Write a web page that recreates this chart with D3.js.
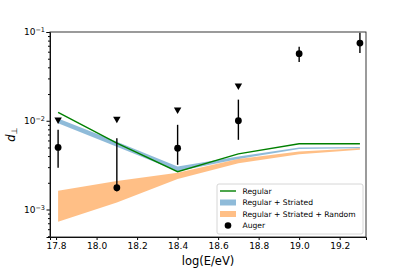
<!DOCTYPE html>
<meta charset="utf-8">
<script src="https://d3js.org/d3.v7.js"></script>
<style>
  body { margin: 0; background: #fff; }
  text { font-family: "DejaVu Sans", sans-serif; }
</style>
<body>
<div id="chart"></div>
<script>
  // energies, log(E/eV)
  const energy = [17.81, 18.1, 18.4, 18.7, 19.0, 19.3];
  const regular = [0.0124, 0.0056, 0.00267, 0.00423, 0.0055, 0.0055];
  const striatedLo = [0.0094, 0.0051, 0.0027, 0.0037, 0.0048, 0.0049];
  const striatedHi = [0.0106, 0.0058, 0.00305, 0.00395, 0.0050, 0.00505];
  const randomLo = [0.00073, 0.0012, 0.0022, 0.00333, 0.0042, 0.0047];
  const randomHi = [0.00163, 0.0021, 0.0026, 0.0037, 0.0045, 0.0049];
  const auger = [0.0050, 0.00176, 0.0049, 0.0100, 0.057, 0.075];
  const augerLo = [0.00296, 0.0016, 0.00319, 0.0061, 0.046, 0.058];
  const augerHi = [0.0079, 0.00637, 0.0090, 0.0173, 0.068, 0.098];
  const upperLimit = [0.0103, 0.0105, 0.0133, 0.0248, null, null];
  const xTicks = [17.8, 18.0, 18.2, 18.4, 18.6, 18.8, 19.0, 19.2];

  const width = 407, height = 271;
  const margin = {left: 50, right: 41, top: 32, bottom: 34};

  const svg = d3.select("#chart").append("svg")
    .attr("width", width).attr("height", height);

  const x = d3.scaleLinear().domain([17.77, 19.33])
    .range([margin.left, width - margin.right]);
  const y = d3.scaleLog().domain([4.9e-4, 0.1])
    .range([height - margin.bottom, margin.top]);

  svg.append("clipPath").attr("id", "clip")
    .append("rect")
      .attr("x", margin.left).attr("y", margin.top)
      .attr("width", width - margin.left - margin.right)
      .attr("height", height - margin.top - margin.bottom);

  const plot = svg.append("g").attr("clip-path", "url(#clip)");

  const idx = d3.range(energy.length);

  const band = (lo, hi) => d3.area()
    .x(i => x(energy[i])).y0(i => y(lo[i])).y1(i => y(hi[i]));

  plot.append("path").attr("d", band(striatedLo, striatedHi)(idx))
    .attr("fill", "#1f77b4").attr("fill-opacity", 0.5);
  plot.append("path").attr("d", band(randomLo, randomHi)(idx))
    .attr("fill", "#ff7f0e").attr("fill-opacity", 0.5);

  plot.append("path")
    .attr("d", d3.line().x(i => x(energy[i])).y(i => y(regular[i]))(idx))
    .attr("fill", "none").attr("stroke", "green").attr("stroke-width", 1.4);

  // auger error bars
  plot.selectAll(".err").data(idx).join("line")
    .attr("x1", i => x(energy[i])).attr("x2", i => x(energy[i]))
    .attr("y1", i => y(augerLo[i])).attr("y2", i => y(augerHi[i]))
    .attr("stroke", "black").attr("stroke-width", 1.4);
  plot.selectAll(".pt").data(idx).join("circle")
    .attr("cx", i => x(energy[i])).attr("cy", i => y(auger[i]))
    .attr("r", 3.4).attr("fill", "black");

  // upper limits
  const tri = d3.symbol().type(d3.symbolTriangle).size(24);
  plot.selectAll(".ul").data(idx.filter(i => upperLimit[i] != null)).join("path")
    .attr("d", tri)
    .attr("transform", i => `translate(${x(energy[i])},${y(upperLimit[i])}) rotate(180)`)
    .attr("fill", "black");

  // axes
  const xAxis = svg.append("g")
    .attr("transform", `translate(0,${height - margin.bottom})`)
    .call(d3.axisBottom(x).tickValues(xTicks).tickFormat(d3.format(".1f"))
      .tickSize(3).tickPadding(3));
  xAxis.selectAll("text").style("font-size", "9px").attr("fill", "#000");

  const minors = [];
  for (let e = -4; e < -1; e++) for (let k = 2; k < 10; k++) {
    const v = k * Math.pow(10, e);
    if (v >= 4.9e-4 && v <= 0.1) minors.push(v);
  }
  svg.append("g").attr("transform", `translate(${margin.left},0)`)
    .call(d3.axisLeft(y).tickValues(minors).tickFormat("").tickSize(2))
    .select(".domain").remove();

  const yAxis = svg.append("g").attr("transform", `translate(${margin.left},0)`)
    .call(d3.axisLeft(y).tickValues([1e-3, 1e-2, 1e-1]).tickSize(3.5).tickFormat(""));
  yAxis.selectAll(".tick").each(function(d) {
    const t = d3.select(this).append("text")
      .attr("x", -5).attr("dy", "0.32em").attr("text-anchor", "end")
      .attr("fill", "#000").style("font-size", "9px");
    t.append("tspan").text("10");
    t.append("tspan").attr("dy", "-0.45em").style("font-size", "6.5px")
      .text("\u2212" + Math.round(-Math.log10(d)));
  });

  svg.selectAll(".domain").attr("stroke", "#000");

  // frame top/right
  svg.append("rect")
    .attr("x", margin.left).attr("y", margin.top)
    .attr("width", width - margin.left - margin.right)
    .attr("height", height - margin.top - margin.bottom)
    .attr("fill", "none").attr("stroke", "#222").attr("stroke-width", 0.9);

  svg.append("text")
    .attr("x", (margin.left + width - margin.right) / 2).attr("y", 265)
    .attr("text-anchor", "middle").style("font-size", "11.5px")
    .text("log(E/eV)");

  const yl = svg.append("text")
    .attr("transform", `translate(15,${(margin.top + height - margin.bottom) / 2}) rotate(-90)`)
    .attr("text-anchor", "middle").style("font-size", "11.5px")
    .style("font-style", "italic");
  yl.append("tspan").text("d");
  yl.append("tspan").attr("dy", "0.3em").style("font-size", "8px")
    .style("font-style", "normal").text("\u22a5");

  // legend
  const lg = svg.append("g").attr("transform", "translate(217,184)");
  lg.append("rect").attr("width", 146).attr("height", 50).attr("rx", 2)
    .attr("fill", "#fff").attr("fill-opacity", 0.8)
    .attr("stroke", "#ccc").attr("stroke-width", 0.8);
  const labels = ["Regular", "Regular + Striated", "Regular + Striated + Random", "Auger"];
  labels.forEach((lab, i) => {
    const cy = 7 + i * 11.5;
    if (i === 0) {
      lg.append("line").attr("x1", 3).attr("x2", 19).attr("y1", cy).attr("y2", cy)
        .attr("stroke", "green").attr("stroke-width", 1.4);
    } else if (i < 3) {
      lg.append("rect").attr("x", 3).attr("y", cy - 3).attr("width", 16).attr("height", 6)
        .attr("fill", i === 1 ? "#1f77b4" : "#ff7f0e").attr("fill-opacity", 0.5);
    } else {
      lg.append("circle").attr("cx", 11).attr("cy", cy).attr("r", 3.3).attr("fill", "black");
    }
    lg.append("text").attr("x", 25.5).attr("y", cy).attr("dy", "0.35em")
      .style("font-size", "7.6px").text(lab);
  });
</script>
</body>
